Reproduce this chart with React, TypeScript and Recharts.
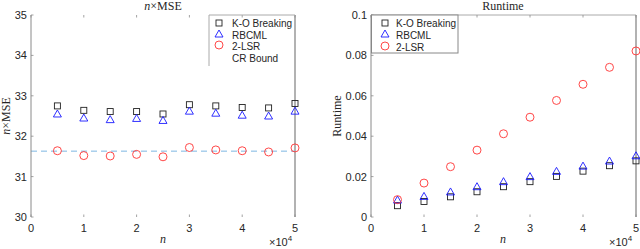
import React from 'react';
import { ScatterChart, Scatter, XAxis, YAxis, ReferenceLine } from 'recharts';

const nValues = [5000, 10000, 15000, 20000, 25000, 30000, 35000, 40000, 45000, 50000];
const koMse = [32.75, 32.64, 32.61, 32.61, 32.55, 32.78, 32.75, 32.71, 32.7, 32.81];
const rbcmlMse = [32.55, 32.45, 32.41, 32.44, 32.39, 32.62, 32.57, 32.52, 32.5, 32.62];
const lsrMse = [31.64, 31.52, 31.51, 31.55, 31.49, 31.72, 31.66, 31.64, 31.61, 31.71];
const crBound = 31.63;

const koRuntime = [0.0056, 0.0077, 0.01, 0.0125, 0.015, 0.0175, 0.0201, 0.0227, 0.0254, 0.0278];
const rbcmlRuntime = [0.0084, 0.0102, 0.0124, 0.015, 0.0175, 0.02, 0.0226, 0.0252, 0.0277, 0.0303];
const lsrRuntime = [0.0086, 0.0168, 0.0249, 0.0331, 0.0412, 0.0494, 0.0577, 0.0657, 0.0741, 0.0822];

const xTicks = [0, 10000, 20000, 30000, 40000, 50000];
const xTickLabels = ['0', '1', '2', '3', '4', '5'];
const mseTicks = [30, 31, 32, 33, 34, 35];
const mseTickLabels = ['30', '31', '32', '33', '34', '35'];
const rtTicks = [0, 0.02, 0.04, 0.06, 0.08, 0.1];
const rtTickLabels = ['0', '0.02', '0.04', '0.06', '0.08', '0.1'];

const mseLegend = ['K-O Breaking', 'RBCML', '2-LSR', 'CR Bound'];
const rtLegend = ['K-O Breaking', 'RBCML', '2-LSR'];

const toPoints = (vals: number[]) => nValues.map((n, i) => ({ n, v: vals[i] }));

const TEXT = '#262626';
const AXIS = '#8a8a8a';
const SANS = '"Liberation Sans", Arial, sans-serif';
const SERIF = '"Liberation Serif", "Times New Roman", serif';
const TOP = 15;

const Square = (p: any) => (
  <rect x={p.cx - 3} y={p.cy - 3} width={6} height={6} fill="none" stroke="#222" strokeWidth={0.9} />
);
const Triangle = (p: any) => (
  <polygon
    points={`${p.cx},${p.cy - 4} ${p.cx - 4},${p.cy + 3} ${p.cx + 4},${p.cy + 3}`}
    fill="none"
    stroke="#1a1aff"
    strokeWidth={0.9}
  />
);
const Circle = (p: any) => <circle cx={p.cx} cy={p.cy} r={4} fill="none" stroke="#ff3333" strokeWidth={0.9} />;

const makeXTick = (labels: string[], ticks: number[]) => (p: any) => {
  const idx = ticks.indexOf(p.payload.value);
  return (
    <g>
      <line x1={p.x} x2={p.x} y1={p.y} y2={p.y - 2.5} stroke={AXIS} strokeWidth={0.8} />
      <line x1={p.x} x2={p.x} y1={TOP} y2={TOP + 2.5} stroke={AXIS} strokeWidth={0.8} />
      <text x={p.x} y={p.y + 15} textAnchor="middle" fontSize={11} fontFamily={SANS} fill={TEXT}>
        {labels[idx]}
      </text>
    </g>
  );
};

const makeYTick = (labels: string[], ticks: number[]) => (p: any) => {
  const idx = ticks.indexOf(p.payload.value);
  return (
    <g>
      <line x1={p.x} x2={p.x + 2.5} y1={p.y} y2={p.y} stroke={AXIS} strokeWidth={0.8} />
      <text x={p.x - 4} y={p.y + 4} textAnchor="end" fontSize={11} fontFamily={SANS} fill={TEXT}>
        {labels[idx]}
      </text>
    </g>
  );
};

export default function App() {
  return (
    <div style={{ position: 'absolute', left: 0, top: 0, width: 640, height: 249, background: '#fff', overflow: 'hidden' }}>
      {/* Left chart */}
      <div style={{ position: 'absolute', left: 0, top: 0 }}>
        <ScatterChart width={320} height={249} margin={{ top: TOP, right: 25, bottom: 0, left: 0 }}>
          <XAxis
            dataKey="n"
            type="number"
            domain={[0, 50000]}
            ticks={xTicks}
            height={32}
            tickSize={0}
            tickMargin={0}
            axisLine={false}
            tickLine={false}
            tick={makeXTick(xTickLabels, xTicks)}
            interval={0}
          />
          <YAxis
            dataKey="v"
            type="number"
            domain={[30, 35]}
            ticks={mseTicks}
            width={31}
            tickSize={0}
            tickMargin={0}
            axisLine={{ stroke: AXIS, strokeWidth: 1 }}
            tickLine={false}
            tick={makeYTick(mseTickLabels, mseTicks)}
            interval={0}
          />
          <ReferenceLine x={50000} stroke="#999" strokeWidth={1.5} />
          <ReferenceLine y={crBound} stroke="#7db6e2" strokeWidth={1} strokeDasharray="6 4" />
          <Scatter name={mseLegend[0]} data={toPoints(koMse)} shape={Square} isAnimationActive={false} />
          <Scatter name={mseLegend[1]} data={toPoints(rbcmlMse)} shape={Triangle} isAnimationActive={false} />
          <Scatter name={mseLegend[2]} data={toPoints(lsrMse)} shape={Circle} isAnimationActive={false} />
        </ScatterChart>
      </div>
      {/* Right chart */}
      <div style={{ position: 'absolute', left: 320, top: 0 }}>
        <ScatterChart width={320} height={249} margin={{ top: TOP, right: 4, bottom: 0, left: 0 }}>
          <XAxis
            dataKey="n"
            type="number"
            domain={[0, 50000]}
            ticks={xTicks}
            height={32}
            tickSize={0}
            tickMargin={0}
            axisLine={false}
            tickLine={false}
            tick={makeXTick(xTickLabels, xTicks)}
            interval={0}
          />
          <YAxis
            dataKey="v"
            type="number"
            domain={[0, 0.1]}
            ticks={rtTicks}
            width={51}
            tickSize={0}
            tickMargin={0}
            axisLine={{ stroke: AXIS, strokeWidth: 1 }}
            tickLine={false}
            tick={makeYTick(rtTickLabels, rtTicks)}
            interval={0}
          />
          <ReferenceLine y={0.1} stroke="#aaa" strokeWidth={1} />
          <ReferenceLine x={50000} stroke="#999" strokeWidth={1.5} />
          <Scatter name={rtLegend[0]} data={toPoints(koRuntime)} shape={Square} isAnimationActive={false} />
          <Scatter name={rtLegend[1]} data={toPoints(rbcmlRuntime)} shape={Triangle} isAnimationActive={false} />
          <Scatter name={rtLegend[2]} data={toPoints(lsrRuntime)} shape={Circle} isAnimationActive={false} />
        </ScatterChart>
      </div>
      {/* Overlay text: titles, axis labels, legends */}
      <svg width={640} height={249} style={{ position: 'absolute', left: 0, top: 0, pointerEvents: 'none' }}>
        {/* Left titles/labels */}
        <text x={163} y={10} textAnchor="middle" fontSize={12} fontFamily={SERIF} fill={TEXT}>
          <tspan fontStyle="italic">n</tspan>×MSE
        </text>
        <text x={10} y={116} transform="rotate(-90 10 116)" textAnchor="middle" fontSize={12} fontFamily={SERIF} fill={TEXT}>
          <tspan fontStyle="italic">n</tspan>×MSE
        </text>
        <text x={163} y={243} textAnchor="middle" fontSize={12} fontFamily={SERIF} fontStyle="italic" fill={TEXT}>n</text>
        <text x={269} y={246} fontSize={11} fontFamily={SANS} fill={TEXT}>
          ×10<tspan fontSize={8} dy={-5}>4</tspan>
        </text>
        {/* Left legend */}
        <line x1={209} x2={295} y1={TOP} y2={TOP} stroke="#aaa" strokeWidth={1} />
        <line x1={209} x2={209} y1={TOP} y2={66} stroke="#aaa" strokeWidth={1} />
        <rect x={216} y={20} width={6} height={6} fill="none" stroke="#222" strokeWidth={0.9} />
        <polygon points="219,30 215,37 223,37" fill="none" stroke="#1a1aff" strokeWidth={0.9} />
        <circle cx={219} cy={45} r={4} fill="none" stroke="#ff3333" strokeWidth={0.9} />
        {mseLegend.map((s, i) => (
          <text key={s} x={232} y={27 + i * 11.5} fontSize={10} fontFamily={SANS} fill={TEXT}>{s}</text>
        ))}
        {/* Right titles/labels */}
        <text x={503} y={10} textAnchor="middle" fontSize={12} fontFamily={SERIF} fill={TEXT}>Runtime</text>
        <text x={341} y={116} transform="rotate(-90 341 116)" textAnchor="middle" fontSize={12} fontFamily={SERIF} fill={TEXT}>Runtime</text>
        <text x={503} y={243} textAnchor="middle" fontSize={12} fontFamily={SERIF} fontStyle="italic" fill={TEXT}>n</text>
        <text x={609} y={246} fontSize={11} fontFamily={SANS} fill={TEXT}>
          ×10<tspan fontSize={8} dy={-5}>4</tspan>
        </text>
        {/* Right legend */}
        <rect x={371.5} y={TOP} width={86.5} height={38} fill="#fff" stroke="#888" strokeWidth={1} />
        <rect x={382} y={20} width={6} height={6} fill="none" stroke="#222" strokeWidth={0.9} />
        <polygon points="385,30 381,37 389,37" fill="none" stroke="#1a1aff" strokeWidth={0.9} />
        <circle cx={385} cy={46} r={4} fill="none" stroke="#ff3333" strokeWidth={0.9} />
        {rtLegend.map((s, i) => (
          <text key={s} x={396} y={27 + i * 11.8} fontSize={10} fontFamily={SANS} fill={TEXT}>{s}</text>
        ))}
      </svg>
    </div>
  );
}
